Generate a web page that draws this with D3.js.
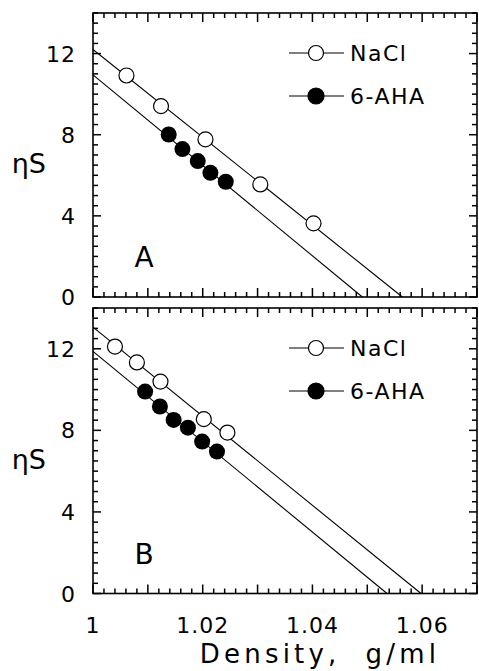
<!DOCTYPE html>
<html>
<head>
<meta charset="utf-8">
<script src="https://cdn.jsdelivr.net/npm/d3@7"></script>
<style>
  body { margin: 0; background: #fff; }
  svg { display: block; }
  text { font-family: "DejaVu Sans", sans-serif; fill: #000; }
</style>
</head>
<body>
<svg></svg>
<script>
var width = 479,
    height = 671;

// panel A data (density g/ml, eta*S)
var naclA = [[1.0061, 10.92], [1.0124, 9.41], [1.0205, 7.77], [1.0305, 5.55], [1.0402, 3.63]];
var ahaA = [[1.0138, 8.01], [1.0163, 7.29], [1.0191, 6.70], [1.0214, 6.12], [1.0242, 5.68]];
// panel B data
var naclB = [[1.0040, 12.11], [1.0080, 11.33], [1.0123, 10.39], [1.0202, 8.55], [1.0245, 7.89]];
var ahaB = [[1.0095, 9.90], [1.0122, 9.17], [1.0147, 8.51], [1.0173, 8.13], [1.0199, 7.45], [1.0226, 6.96]];

// fitted lines: [value at density 1, density where eta*S = 0]
var fitNaclA = [12.2, 1.0564],
    fitAhaA = [10.95, 1.0491],
    fitNaclB = [13.06, 1.0598],
    fitAhaB = [11.87, 1.0536];

var xMajor = [1, 1.01, 1.02, 1.03, 1.04, 1.05, 1.06, 1.07],
    xLabels = [1, 1.02, 1.04, 1.06],
    yMajor = [0, 4, 8, 12];
var legendNames = ["NaCl", "6-AHA"];

var svg = d3.select("svg")
    .attr("width", width)
    .attr("height", height);

var x = d3.scaleLinear()
    .domain([1, 1.07])
    .range([93, 477]);

var xMinor = d3.range(0, 36).map(i => 1 + i * 0.002),
    yMinor = d3.range(0, 29).map(i => i * 0.5);

var panels = [
    { y: d3.scaleLinear().domain([0, 14]).range([297, 13]), nacl: naclA, aha: ahaA, fits: [fitNaclA, fitAhaA], letter: "A" },
    { y: d3.scaleLinear().domain([0, 14]).range([593.5, 308]), nacl: naclB, aha: ahaB, fits: [fitNaclB, fitAhaB], letter: "B" }
];
var x0 = x.range()[0],
    x1 = x.range()[1];

panels.forEach((pn, pi) => {
    var y = pn.y;
    var top = y.range()[1], bottom = y.range()[0];
    var g = svg.append("g");

    // fit lines
    pn.fits.forEach(f => {
        g.append("line")
            .attr("x1", x(1)).attr("y1", y(f[0]))
            .attr("x2", x(f[1])).attr("y2", y(0))
            .attr("stroke", "#000")
            .attr("stroke-width", 1.1);
    });

    // y tick labels
    g.selectAll(".ylab")
        .data(yMajor)
        .enter().append("text")
        .attr("x", x0 - 17)
        .attr("y", d => y(d) + 8)
        .attr("text-anchor", "end")
        .style("font-size", "22px")
        .style("letter-spacing", "1px")
        .text(d => d);

    g.append("text")
        .attr("x", 46)
        .attr("y", (top + bottom) / 2 + 18)
        .attr("text-anchor", "end")
        .style("font-size", "27px")
        .text("ηS");

    g.append("text")
        .attr("x", 144)
        .attr("y", bottom - 30)
        .attr("text-anchor", "middle")
        .style("font-size", "28px")
        .text(pn.letter);

    // points
    g.selectAll(".nacl")
        .data(pn.nacl)
        .enter().append("circle")
        .attr("cx", d => x(d[0]))
        .attr("cy", d => y(d[1]))
        .attr("r", 7.5)
        .attr("fill", "#fff")
        .attr("stroke", "#000")
        .attr("stroke-width", 1.2);
    g.selectAll(".aha")
        .data(pn.aha)
        .enter().append("circle")
        .attr("cx", d => x(d[0]))
        .attr("cy", d => y(d[1]))
        .attr("r", 8)
        .attr("fill", "#000");

    // legend
    legendNames.forEach((name, i) => {
        var ly = top + 40 + i * 43;
        g.append("line")
            .attr("x1", 289).attr("x2", 344)
            .attr("y1", ly).attr("y2", ly)
            .attr("stroke", "#000")
            .attr("stroke-width", 1.1);
        g.append("circle")
            .attr("cx", 316).attr("cy", ly)
            .attr("r", i === 0 ? 7.5 : 8)
            .attr("fill", i === 0 ? "#fff" : "#000")
            .attr("stroke", "#000")
            .attr("stroke-width", 1.2);
        g.append("text")
            .attr("x", 350).attr("y", ly + 8)
            .style("font-size", "22px")
            .style("letter-spacing", "1.5px")
            .text(name);
    });

    if (pi === 1) {
        g.selectAll(".xlab")
            .data(xLabels)
            .enter().append("text")
            .attr("x", d => x(d))
            .attr("y", bottom + 39)
            .attr("text-anchor", "middle")
            .style("font-size", "22px")
            .style("letter-spacing", "1px")
            .text(d => d);
    }

    g.append("rect")
        .attr("x", x0).attr("y", top)
        .attr("width", x1 - x0).attr("height", bottom - top)
        .attr("fill", "none")
        .attr("stroke", "#000")
        .attr("stroke-width", 1.6);
});

// ticks, inward on all four sides, drawn last
var tickG = svg.append("g")
    .attr("stroke", "#000")
    .attr("stroke-width", 1.5);
panels.forEach(pn => {
    var top = pn.y.range()[1], bottom = pn.y.range()[0];
    xMinor.forEach(d => {
        var len = xMajor.some(m => Math.abs(m - d) < 1e-6) ? 9 : 5;
        tickG.append("line")
            .attr("x1", x(d)).attr("y1", bottom)
            .attr("x2", x(d)).attr("y2", bottom - len);
        tickG.append("line")
            .attr("x1", x(d)).attr("y1", top)
            .attr("x2", x(d)).attr("y2", top + len);
    });
    yMinor.forEach(d => {
        var len = d % 4 === 0 ? 8 : 5;
        tickG.append("line")
            .attr("x1", x0).attr("y1", pn.y(d))
            .attr("x2", x0 + len).attr("y2", pn.y(d));
        tickG.append("line")
            .attr("x1", x1).attr("y1", pn.y(d))
            .attr("x2", x1 - len).attr("y2", pn.y(d));
    });
});

svg.append("text")
    .attr("x", 320)
    .attr("y", 663)
    .attr("text-anchor", "middle")
    .style("font-size", "26px")
    .style("letter-spacing", "4.2px")
    .attr("xml:space", "preserve")
    .text("Density,  g/ml");
</script>
</body>
</html>
